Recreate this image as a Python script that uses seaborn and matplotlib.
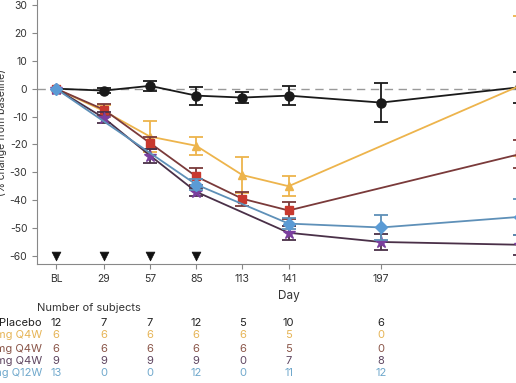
import numpy as np
import pandas as pd
import matplotlib
matplotlib.use("Agg")
import matplotlib.pyplot as plt
import matplotlib.transforms as mtransforms
import seaborn as sns

# data
tick_days = [0, 29, 57, 85, 113, 141, 197, 281]
tick_labels = ["BL", "29", "57", "85", "113", "141", "197", "D"]
dose_days = [0, 29, 57, 85]

placebo_days = [0, 29, 57, 85, 113, 141, 197, 281]
placebo_mean = [0, -0.7, 1.0, -2.5, -3.2, -2.5, -5.0, 0.5]
placebo_err = [0, 1.0, 1.8, 3.2, 2.0, 3.5, 7.0, 5.5]

orange_days = [0, 29, 57, 85, 113, 141, 281]
orange_mean = [0, -8.0, -17.2, -20.5, -31.0, -35.0, 1.0]
orange_err = [0, 2.0, 5.7, 3.2, 6.5, 3.5, 25.0]

red_days = [0, 29, 57, 85, 113, 141, 281]
red_mean = [0, -7.5, -19.5, -31.5, -39.5, -43.7, -23.5]
red_err = [0, 2.0, 2.0, 3.0, 2.5, 3.0, 5.0]

purple_days = [0, 29, 57, 85, 141, 197, 281]
purple_mean = [0, -10.5, -24.0, -37.0, -51.7, -55.0, -56.0]
purple_err = [0, 2.0, 2.5, 1.5, 2.5, 3.0, 3.5]

blue_days = [0, 85, 141, 197, 281]
blue_mean = [0, -34.4, -48.4, -49.8, -46.0]
blue_err = [0, 2.0, 2.0, 4.5, 6.5]

row_labels = ["Placebo", "30 mg Q4W", "100 mg Q4W", "300 mg Q4W", "600 mg Q12W"]
table_days = [0, 29, 57, 85, 113, 141, 197]
n_placebo = [12, 7, 7, 12, 5, 10, 6]
n_orange = [6, 6, 6, 6, 6, 5, 0]
n_red = [6, 6, 6, 6, 6, 5, 0]
n_purple = [9, 9, 9, 9, 0, 7, 8]
n_blue = [13, 0, 0, 12, 0, 11, 12]

sns.set_style("ticks")
plt.rcParams["font.family"] = ["Inter", "DejaVu Sans"]
plt.rcParams["axes.unicode_minus"] = False

fig = plt.figure(figsize=(5.16, 3.83), dpi=100)
ax = fig.add_axes([37 / 516, 1 - 264 / 383, 523 / 516, 264 / 383])

series = [
    (placebo_days, placebo_mean, placebo_err, "#1a1a1a", "#1a1a1a", "o", 6.5, "#1a1a1a"),
    (orange_days, orange_mean, orange_err, "#EDB44C", "#EDB44C", "^", 5.5, "#EDB44C"),
    (red_days, red_mean, red_err, "#7A3A3A", "#C8392E", "s", 6, "#7A3A3A"),
    (purple_days, purple_mean, purple_err, "#4A3048", "#7B3F9E", "*", 9, "#4A3048"),
    (blue_days, blue_mean, blue_err, "#5E90B8", "#5B9BD5", "D", 6, "#5E90B8"),
]

ax.axhline(0, color="#999999", lw=1, dashes=(6, 4), zorder=1)

for i, (d, m, e, lc, mc, mk, ms, ec) in enumerate(series):
    df = pd.DataFrame({"day": d, "mean": m})
    sns.lineplot(data=df, x="day", y="mean", color=lc, lw=1.3, ax=ax,
                 zorder=2 + i, sort=False)
    ax.errorbar(d[1:], m[1:], yerr=e[1:], fmt="none", ecolor=ec,
                elinewidth=1.3, capsize=5, capthick=1.3, zorder=2 + i)
    ax.plot(d, m, ls="none", marker=mk, ms=ms, color=mc, mec=mc, zorder=3 + i)

sns.scatterplot(x=dose_days, y=[-60] * len(dose_days), marker="v", s=40,
                color="#111111", edgecolor="#111111", ax=ax, zorder=5)

ax.set_xlim(-11.5, 305.5)
ax.set_ylim(-62.9, 31.8)
ax.set_yticks(np.arange(-60, 31, 10))
ax.set_xticks(tick_days)
ax.set_xticklabels(tick_labels)
ax.tick_params(axis="both", labelsize=7.5, colors="#333333", length=3.5,
               width=0.8, color="#888888")
for s in ["top", "right"]:
    ax.spines[s].set_visible(False)
for s in ["left", "bottom"]:
    ax.spines[s].set_color("#888888")
    ax.spines[s].set_linewidth(0.8)

ax.set_xlabel("Day", fontsize=8.5, color="#333333")
ax.xaxis.set_label_coords((289 - 37) / 523, -0.1)
ax.set_ylabel("(% change from baseline)", fontsize=7.5, color="#333333")
ax.yaxis.set_label_coords(-0.058, 0.5)

# number of subjects table
fig.text(37 / 516, 1 - 308 / 383, "Number of subjects", fontsize=8,
         color="#333333", va="center", ha="left")
trans = mtransforms.blended_transform_factory(ax.transData, fig.transFigure)
row_counts = [n_placebo, n_orange, n_red, n_purple, n_blue]
row_colors = ["#222222", "#E6B455", "#8A5548", "#5E4560", "#6FA8CC"]
row_y = [323, 335.5, 348.5, 361, 373.5]
for lab, counts, col, py in zip(row_labels, row_counts, row_colors, row_y):
    yf = 1 - py / 383
    fig.text(42 / 516, yf, lab, fontsize=8, color=col, ha="right", va="center")
    for d, n in zip(table_days, counts):
        ax.text(d, yf, str(n), fontsize=8, color=col, ha="center",
                va="center", transform=trans, clip_on=False)

fig.savefig("out.png", dpi=100)
